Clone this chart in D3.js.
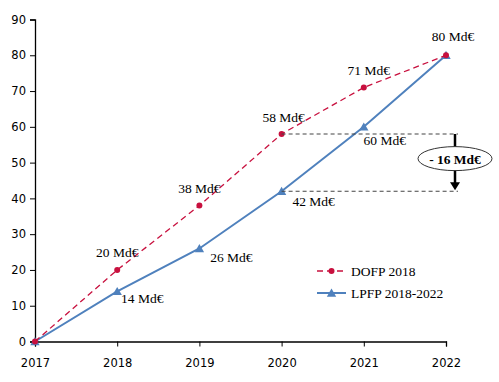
<!DOCTYPE html>
<html>
<head>
<meta charset="utf-8">
<script src="https://cdn.jsdelivr.net/npm/d3@7"></script>
<style>
  body { margin: 0; background: #fff; }
  .tick text { font-family: "DejaVu Sans", Verdana, sans-serif; font-size: 11.5px; fill: #000; }
  .lbl { font-family: "Liberation Serif", "Times New Roman", serif; font-size: 13.5px; fill: #000; }
</style>
</head>
<body>
<svg id="graph"></svg>
<script>
// chart data
var years = [2017, 2018, 2019, 2020, 2021, 2022];
var dofp = [0, 20, 38, 58, 71, 80];
var lpfp = [0, 14, 26, 42, 60, 80];
var yTicks = [0, 10, 20, 30, 40, 50, 60, 70, 80, 90];
var seriesNames = ["DOFP 2018", "LPFP 2018-2022"];
var gapLabel = "- 16 Md€";

var screen = {width: 499, height: 382};
var svg = d3.select("#graph")
    .attr("width", screen.width)
    .attr("height", screen.height);

var xScale = d3.scaleLinear().domain([2017, 2022]).range([35, 446]);
var yScale = d3.scaleLinear().domain([0, 90]).range([341.5, 19.5]);

//axes
svg.append("g")
    .attr("transform", "translate(35,0)")
    .call(d3.axisLeft(yScale).tickValues(yTicks).tickSize(5).tickPadding(4))
    .call(function(g){ g.select(".domain").attr("stroke-width", 1.3); });

svg.append("g")
    .attr("transform", "translate(0," + yScale(0) + ")")
    .call(d3.axisBottom(xScale).tickValues(years).tickFormat(d3.format("d")).tickSize(5).tickPadding(12))
    .call(function(g){ g.select(".domain").attr("stroke-width", 1.3); });

var red = "#C8103E", blue = "#4F81BD";
var line = d3.line()
    .x(function(d, i){ return xScale(years[i]); })
    .y(function(d){ return yScale(d); });

//LPFP line
svg.append("path")
    .attr("d", line(lpfp))
    .attr("fill", "none")
    .attr("stroke", blue)
    .attr("stroke-width", 2);
svg.selectAll(".tri")
    .data(lpfp)
    .enter()
    .append("path")
    .attr("d", d3.symbol().type(d3.symbolTriangle).size(38))
    .attr("transform", function(d, i){ return "translate(" + xScale(years[i]) + "," + (yScale(d) + 1) + ")"; })
    .attr("fill", blue);

//DOFP line
svg.append("path")
    .attr("d", line(dofp))
    .attr("fill", "none")
    .attr("stroke", red)
    .attr("stroke-width", 1.3)
    .attr("stroke-dasharray", "6,4");
svg.selectAll(".dot")
    .data(dofp)
    .enter()
    .append("circle")
    .attr("cx", function(d, i){ return xScale(years[i]); })
    .attr("cy", function(d){ return yScale(d); })
    .attr("r", 3)
    .attr("fill", red);

//value labels
var dofpOff = [null, [0, -13], [0, -13], [2, -12], [5, -12], [7, -14]];
var lpfpOff = [null, [25, 12], [32, 14], [32, 15], [21, 18], null];
dofp.forEach(function(v, i){
    if (!dofpOff[i]) return;
    svg.append("text").attr("class", "lbl")
        .attr("x", xScale(years[i]) + dofpOff[i][0])
        .attr("y", yScale(v) + dofpOff[i][1])
        .attr("text-anchor", "middle")
        .text(v + " Md€");
});
lpfp.forEach(function(v, i){
    if (!lpfpOff[i]) return;
    svg.append("text").attr("class", "lbl")
        .attr("x", xScale(years[i]) + lpfpOff[i][0])
        .attr("y", yScale(v) + lpfpOff[i][1])
        .attr("text-anchor", "middle")
        .text(v + " Md€");
});

//gap annotation
var gx = 455;
[dofp[3], lpfp[3]].forEach(function(v){
    svg.append("line")
        .attr("x1", xScale(2020)).attr("x2", gx + 3)
        .attr("y1", yScale(v)).attr("y2", yScale(v))
        .attr("stroke", "#444").attr("stroke-width", 1.2)
        .attr("stroke-dasharray", "4,3");
});
svg.append("line")
    .attr("x1", gx).attr("x2", gx)
    .attr("y1", yScale(dofp[3])).attr("y2", yScale(lpfp[3]) - 7)
    .attr("stroke", "#000").attr("stroke-width", 2.5);
svg.append("path")
    .attr("d", "M" + (gx - 5) + "," + (yScale(lpfp[3]) - 9) + "L" + (gx + 5) + "," + (yScale(lpfp[3]) - 9) + "L" + gx + "," + (yScale(lpfp[3]) - 1) + "Z")
    .attr("fill", "#000");
var gy = (yScale(dofp[3]) + yScale(lpfp[3])) / 2 - 4;
svg.append("ellipse")
    .attr("cx", gx).attr("cy", gy)
    .attr("rx", 37).attr("ry", 12)
    .attr("fill", "#fff").attr("stroke", "#333").attr("stroke-width", 1);
svg.append("text").attr("class", "lbl")
    .attr("x", gx).attr("y", gy + 5)
    .attr("text-anchor", "middle")
    .attr("font-weight", "bold")
    .text(gapLabel);

//legend
var legend = svg.append("g").attr("transform", "translate(317,271)");
legend.append("line")
    .attr("x1", 0).attr("x2", 29).attr("y1", 0).attr("y2", 0)
    .attr("stroke", red).attr("stroke-width", 1.3).attr("stroke-dasharray", "6,4");
legend.append("circle").attr("cx", 14.5).attr("cy", 0).attr("r", 3).attr("fill", red);
legend.append("line")
    .attr("x1", 0).attr("x2", 29).attr("y1", 22).attr("y2", 22)
    .attr("stroke", blue).attr("stroke-width", 2);
legend.append("path")
    .attr("d", d3.symbol().type(d3.symbolTriangle).size(38))
    .attr("transform", "translate(14.5,23)")
    .attr("fill", blue);
legend.selectAll(".lt")
    .data(seriesNames)
    .enter()
    .append("text")
    .attr("class", "lbl")
    .attr("x", 34)
    .attr("y", function(d, i){ return i * 22 + 5; })
    .text(function(d){ return d; });
</script>
</body>
</html>
